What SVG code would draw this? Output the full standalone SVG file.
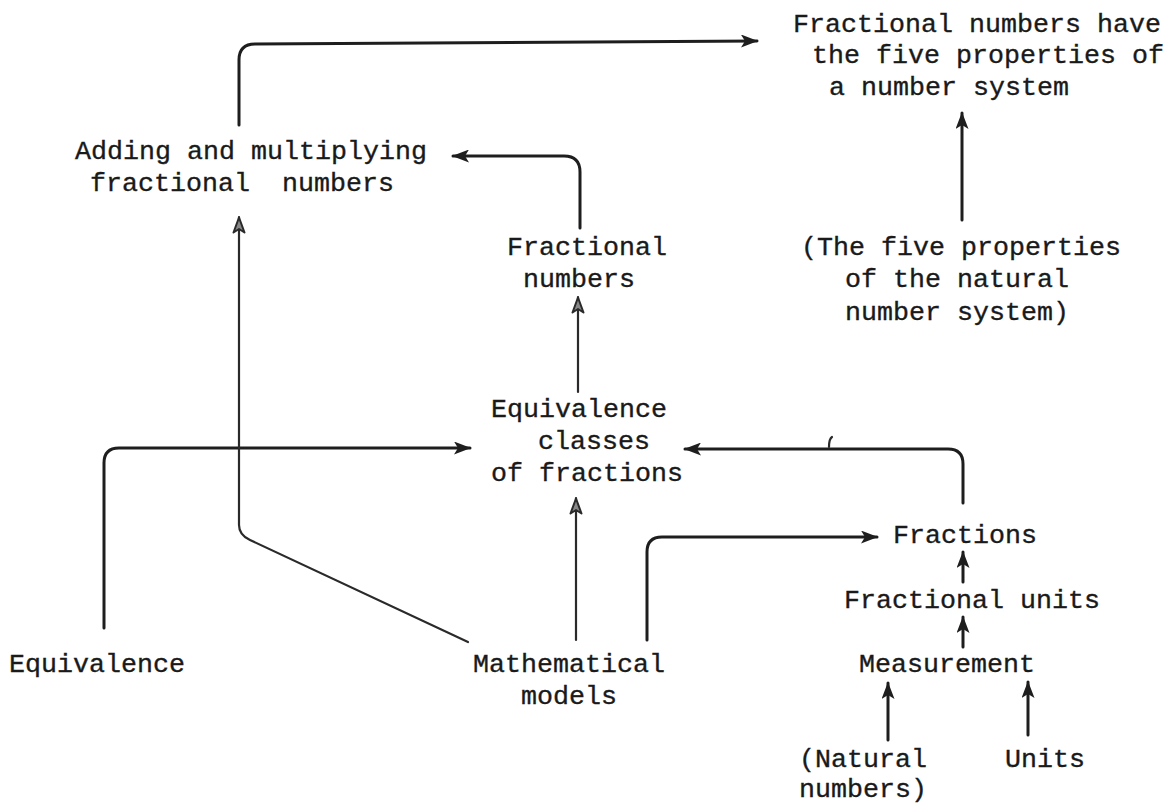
<svg xmlns="http://www.w3.org/2000/svg" width="1172" height="803" viewBox="0 0 1172 803">
<style>
text{font-family:"Liberation Mono","Courier New",monospace;font-size:26.67px;fill:#1a1a1a;white-space:pre;stroke:#1a1a1a;stroke-width:0.35px}
.c{fill:none;stroke:#1e1e1e;stroke-width:3;stroke-linecap:round;stroke-linejoin:round}
.t{fill:none;stroke:#2a2a2a;stroke-width:2.2;stroke-linecap:round;stroke-linejoin:round}
</style>
<defs>
<marker id="af" viewBox="0 0 17 13" refX="16" refY="6.5" markerWidth="17" markerHeight="13" markerUnits="userSpaceOnUse" orient="auto">
<path d="M0,0 L17,6.5 L0,13 L4,6.5 Z" fill="#1e1e1e"/>
</marker>
<marker id="ao" viewBox="0 0 18 14" refX="17" refY="7" markerWidth="18" markerHeight="14" markerUnits="userSpaceOnUse" orient="auto">
<path d="M1.5,1.5 L16.5,7 L1.5,12.5 L5,7 Z" fill="#888" stroke="#2a2a2a" stroke-width="2" stroke-linejoin="round"/>
</marker>
</defs>
<rect width="1172" height="803" fill="#fff"/>
<g id="connectors">
<path class="c" d="M239,125 V60 Q239,44 255,44 L757,41" marker-end="url(#af)"/>
<path class="c" d="M580,228 V172 Q580,156 564,156 H453" marker-end="url(#af)"/>
<path class="t" d="M578,392 V297" marker-end="url(#ao)"/>
<path class="c" d="M962,220 V113" marker-end="url(#af)"/>
<path class="c" d="M104,628 V463 Q104,448 119,448 H470" marker-end="url(#af)"/>
<path class="t" d="M468,642 L250,540 Q239,535 239,525 V217" marker-end="url(#ao)"/>
<path class="t" d="M576,640 V498" marker-end="url(#ao)"/>
<path class="c" d="M647,640 V552 Q647,537 662,537 H877" marker-end="url(#af)"/>
<path class="c" d="M963,503 V464 Q963,449 948,449 H685" marker-end="url(#af)"/>
<path class="c" d="M963,582 V552" marker-end="url(#af)"/>
<path class="c" d="M963,647 V617" marker-end="url(#af)"/>
<path class="c" d="M888,740 V683" marker-end="url(#af)"/>
<path class="c" d="M1028,735 V682" marker-end="url(#af)"/>
<path class="t" d="M829,447 Q829,439 832,437"/>
</g>
<g id="n-fracprops"><text x="793" y="32">Fractional numbers have</text><text x="812" y="63">the five properties of</text><text x="829" y="95">a number system</text></g>
<g id="n-adding"><text x="75" y="159">Adding and multiplying</text><text x="90" y="191" xml:space="preserve">fractional  numbers</text></g>
<g id="n-fracnum"><text x="507" y="255">Fractional</text><text x="523" y="287">numbers</text></g>
<g id="n-natprops"><text x="801" y="255">(The five properties</text><text x="845" y="287">of the natural</text><text x="845" y="320">number system)</text></g>
<g id="n-eqclasses"><text x="491" y="417">Equivalence</text><text x="538" y="449">classes</text><text x="491" y="481">of fractions</text></g>
<g id="n-fractions"><text x="893" y="543">Fractions</text></g>
<g id="n-fracunits"><text x="844" y="608">Fractional units</text></g>
<g id="n-measurement"><text x="859" y="672">Measurement</text></g>
<g id="n-equivalence"><text x="9" y="672">Equivalence</text></g>
<g id="n-models"><text x="473" y="672">Mathematical</text><text x="521" y="704">models</text></g>
<g id="n-natural"><text x="799" y="767">(Natural</text><text x="799" y="797">numbers)</text></g>
<g id="n-units"><text x="1005" y="767">Units</text></g>
</svg>
